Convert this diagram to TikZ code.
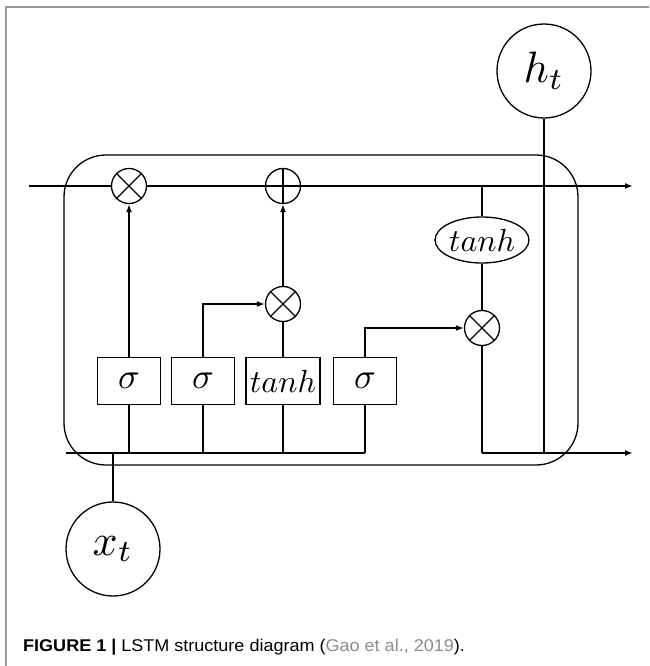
\documentclass[tikz,border=0pt]{standalone}
\usepackage{fontspec}
\newfontfamily\capfont{Liberation Sans}
\usetikzlibrary{shapes.geometric,arrows.meta}
\newcommand{\lstmsym}[2]{\scalebox{#1}{$#2$}}
\begin{document}
\begin{tikzpicture}[x=1pt,y=-1pt,
  line/.style={line width=1.6pt},
  arr/.style={line width=1.6pt,-{Latex[length=8pt,width=6pt]}},
  op/.style={circle,draw,line width=1.3pt,minimum size=35pt,inner sep=0pt},
  gate/.style={draw,line width=1.3pt,minimum height=47pt,inner sep=0pt},
  io/.style={circle,draw,line width=1.3pt,minimum size=94pt,inner sep=0pt}]
\useasboundingbox (0,0) rectangle (649,666);
\draw[gray!80,line width=1.2pt] (6,666) -- (6,7) -- (649,7);
% cell
\draw[line width=1.3pt,rounded corners=42pt] (64,155) rectangle (578,465);
% output/input
\node[io] (ht) at (544,71) {\lstmsym{4.4}{h_t}};
\node[io] (xt) at (113,549) {\lstmsym{4.4}{x_t}};
% operators
\node[op] (mul1) at (129,186) {};
\node[op] (add) at (283,186) {};
\node[op] (mul2) at (283,304) {};
\node[op] (mul3) at (482,328) {};
\foreach \n in {mul1,mul2,mul3}{
  \draw[line width=1.2pt] (\n.north east) -- (\n.south west) (\n.north west) -- (\n.south east);}
\draw[line width=1.2pt] (add.north) -- (add.south) (add.west) -- (add.east);
\node[draw,ellipse,line width=1.3pt,minimum width=94pt,minimum height=46pt,inner sep=0pt] (te) at (482,240) {\lstmsym{3.2}{tanh}};
% gates
\node[gate,minimum width=63pt] (s1) at (129,381) {\lstmsym{3.6}{\sigma}};
\node[gate,minimum width=63pt] (s2) at (203,381) {\lstmsym{3.6}{\sigma}};
\node[gate,minimum width=74pt] (tb) at (283,381) {\lstmsym{3.2}{tanh}};
\node[gate,minimum width=63pt] (s3) at (365,381) {\lstmsym{3.6}{\sigma}};
% coordinates
\coordinate (cin) at (29,186);
\coordinate (cout) at (633,186);
\coordinate (hin) at (66,453);
\coordinate (hout) at (633,453);
\coordinate (bl3) at (365,453);
\coordinate (bx) at (113,453);
\coordinate (br) at (482,453);
\coordinate (bh) at (544,453);
\coordinate (ct) at (482,186);
% top line
\draw[line] (cin) -- (mul1.west);
\draw[line] (mul1.east) -- (add.west);
\draw[arr] (add.east) -- (cout);
\draw[line width=2.4pt] (331,186) -- (ct);
\draw[line] (ct) -- (te.north);
\draw[line] (te.south) -- (mul3.north);
% bottom line
\draw[line] (hin) -- (bl3);
\draw[arr] (br) -- (hout);
\draw[line] (xt.north) -- (bx);
\draw[line] (mul3.south) -- (br);
\draw[line] (ht.south) -- (bh);
% gate connections
\draw[line] (s1.south) -- (s1.south |- hin);
\draw[line] (s2.south) -- (s2.south |- hin);
\draw[line] (tb.south) -- (tb.south |- hin);
\draw[line] (s3.south) -- (bl3);
\draw[arr] (s1.north) -- (mul1.south);
\draw[arr] (s2.north) |- (mul2.west);
\draw[line] (tb.north) -- (mul2.south);
\draw[arr] (mul2.north) -- (add.south);
\draw[arr] (s3.north) |- (mul3.west);
% caption
\node[anchor=west,inner sep=0pt] (cap) at (23,647) {\scalebox{1.06}[1]{\capfont\fontsize{17}{17}\selectfont\textbf{FIGURE 1 |} LSTM structure diagram (\textcolor{gray!90}{Gao et al., 2019}).}};
\end{tikzpicture}
\end{document}
